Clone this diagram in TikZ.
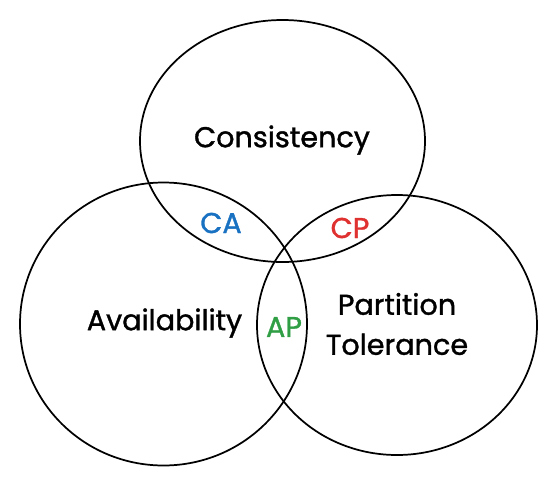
\documentclass[tikz,border=0pt]{standalone}
\usepackage{fontspec}
\setmainfont{Poppins}[FakeBold=1.2]
\definecolor{caBlue}{HTML}{1971C2}
\definecolor{cpRed}{HTML}{E03131}
\definecolor{apGreen}{HTML}{2F9E44}
\tikzset{
  setline/.style={line width=1.3pt},
  setname/.style={font=\fontsize{21.5}{30}\selectfont, align=center},
  pairname/.style={font=\fontsize{21.5}{30}\selectfont}
}
\begin{document}
\begin{tikzpicture}[x=0.75pt,y=0.75pt]
                \useasboundingbox (0,0) rectangle (557,-486);
                \draw[setline] (282.5,-141) ellipse [x radius=142.5, y radius=121];
                \draw[setline] (163.5,-324) ellipse [x radius=143.5, y radius=141.5];
                \draw[setline] (397,-325) ellipse [x radius=140, y radius=130];

                \node[setname] (C) at (282,-140) {Consistency};
                \node[setname] (A) at (164.5,-323) {Availability};
                \node[setname] (P) at (397,-324) {Partition\\Tolerance};

                \node[pairname, text=caBlue] (CA) at (221,-223) {CA};
                \node[pairname, text=cpRed] (CP) at (350,-228) {CP};
                \node[pairname, text=apGreen] (AP) at (284,-327) {AP};
            \end{tikzpicture}
\end{document}
